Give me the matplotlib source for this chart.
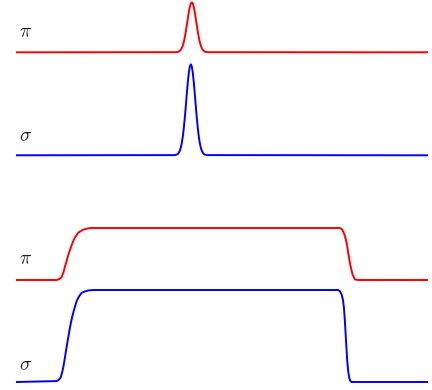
import numpy as np
import matplotlib
matplotlib.use("Agg")
import matplotlib.pyplot as plt

plt.rcParams['mathtext.fontset'] = 'cm'

# energy axis points (arbitrary units) and normalised intensities
# narrow peaks
pk_dx = [-16, -14, -13, -12, -11, -10, -9, -8, -7, -6, -5, -4, -3, -2, -1, 0,
         1, 2, 3, 4, 5, 6, 7, 8, 9, 10, 11, 12, 13, 14, 16]
pk_shape = [0.002, 0.008, 0.015, 0.029, 0.050, 0.085, 0.135, 0.206, 0.298, 0.411, 0.539,
            0.674, 0.801, 0.906, 0.976, 1.0, 0.976, 0.906, 0.801, 0.674, 0.539, 0.411,
            0.298, 0.206, 0.135, 0.085, 0.050, 0.029, 0.015, 0.008, 0.002]
pi_peak_center = 191.8
sigma_peak_center = 190.8
pi_peak_height = 50
sigma_peak_height = 91

# broad plateaus
pi_plat_x = [17, 56.7, 59.5, 61.7, 63.5, 65, 66.7, 68.3, 70, 71.7, 73.3, 75, 78.3, 83.3, 90,
             340, 341.7, 343.3, 344.7, 346, 347.2, 348.3, 349.5, 350.7, 352.7, 355, 358.3, 427]
pi_plat_y = [0, 0, 0.02, 0.06, 0.15, 0.26, 0.37, 0.48, 0.58, 0.67, 0.75, 0.82, 0.91, 0.97, 1.0,
             1.0, 0.98, 0.93, 0.86, 0.77, 0.65, 0.51, 0.38, 0.25, 0.10, 0.01, 0, 0]
sigma_plat_x = [17, 56.7, 58.8, 60.7, 62, 63.3, 64.7, 66, 67.7, 69.3, 71, 72.7, 74.7, 76.7,
                79, 81.7, 85, 88.3, 93.3,
                338.3, 340, 341.7, 343, 344, 344.9, 345.7, 346.5, 347.3, 348.3, 349.3, 350.5,
                351.7, 427]
sigma_plat_y = [0, 0.01, 0.025, 0.05, 0.10, 0.16, 0.25, 0.34, 0.45, 0.55, 0.65, 0.73, 0.81,
                0.88, 0.93, 0.97, 0.985, 0.995, 1.0,
                1.0, 0.985, 0.95, 0.89, 0.80, 0.66, 0.51, 0.36, 0.22, 0.11, 0.04, 0.01,
                0, 0]
pi_plat_height = 52
sigma_plat_height = 92

labels = [r'$\pi$', r'$\sigma$', r'$\pi$', r'$\sigma$']

red = '#ff0000'
blue = '#0000ff'

fig = plt.figure(figsize=(4.32, 3.9), dpi=100)
ax = fig.add_axes([0, 0, 1, 1])
ax.set_xlim(0, 432)
ax.set_ylim(390, 0)
ax.axis('off')

# baselines of each trace (vertical offsets)
base = [52.3, 155.3, 280.0, 382.0]


def peak_trace(center, height):
    x = [17] + [center + d for d in pk_dx] + [427]
    y = [0] + [height * s for s in pk_shape] + [0]
    return np.array(x), np.array(y)


x1, y1 = peak_trace(pi_peak_center, pi_peak_height)
x2, y2 = peak_trace(sigma_peak_center, sigma_peak_height)
x3, y3 = np.array(pi_plat_x), pi_plat_height * np.array(pi_plat_y)
x4, y4 = np.array(sigma_plat_x), sigma_plat_height * np.array(sigma_plat_y)

lw = 1.4
ax.plot(x1, base[0] - y1, color=red, lw=lw)
ax.plot(x2, base[1] - y2, color=blue, lw=lw)
ax.plot(x3, base[2] - y3, color=red, lw=lw)
ax.plot(x4, base[3] - y4, color=blue, lw=lw)

label_y = [31.5, 136.0, 259.0, 364.5]
for lab, ly in zip(labels, label_y):
    ax.text(19, ly, lab, fontsize=14, ha='left', va='center', color='#222222')

fig.savefig('out.png', dpi=100)
